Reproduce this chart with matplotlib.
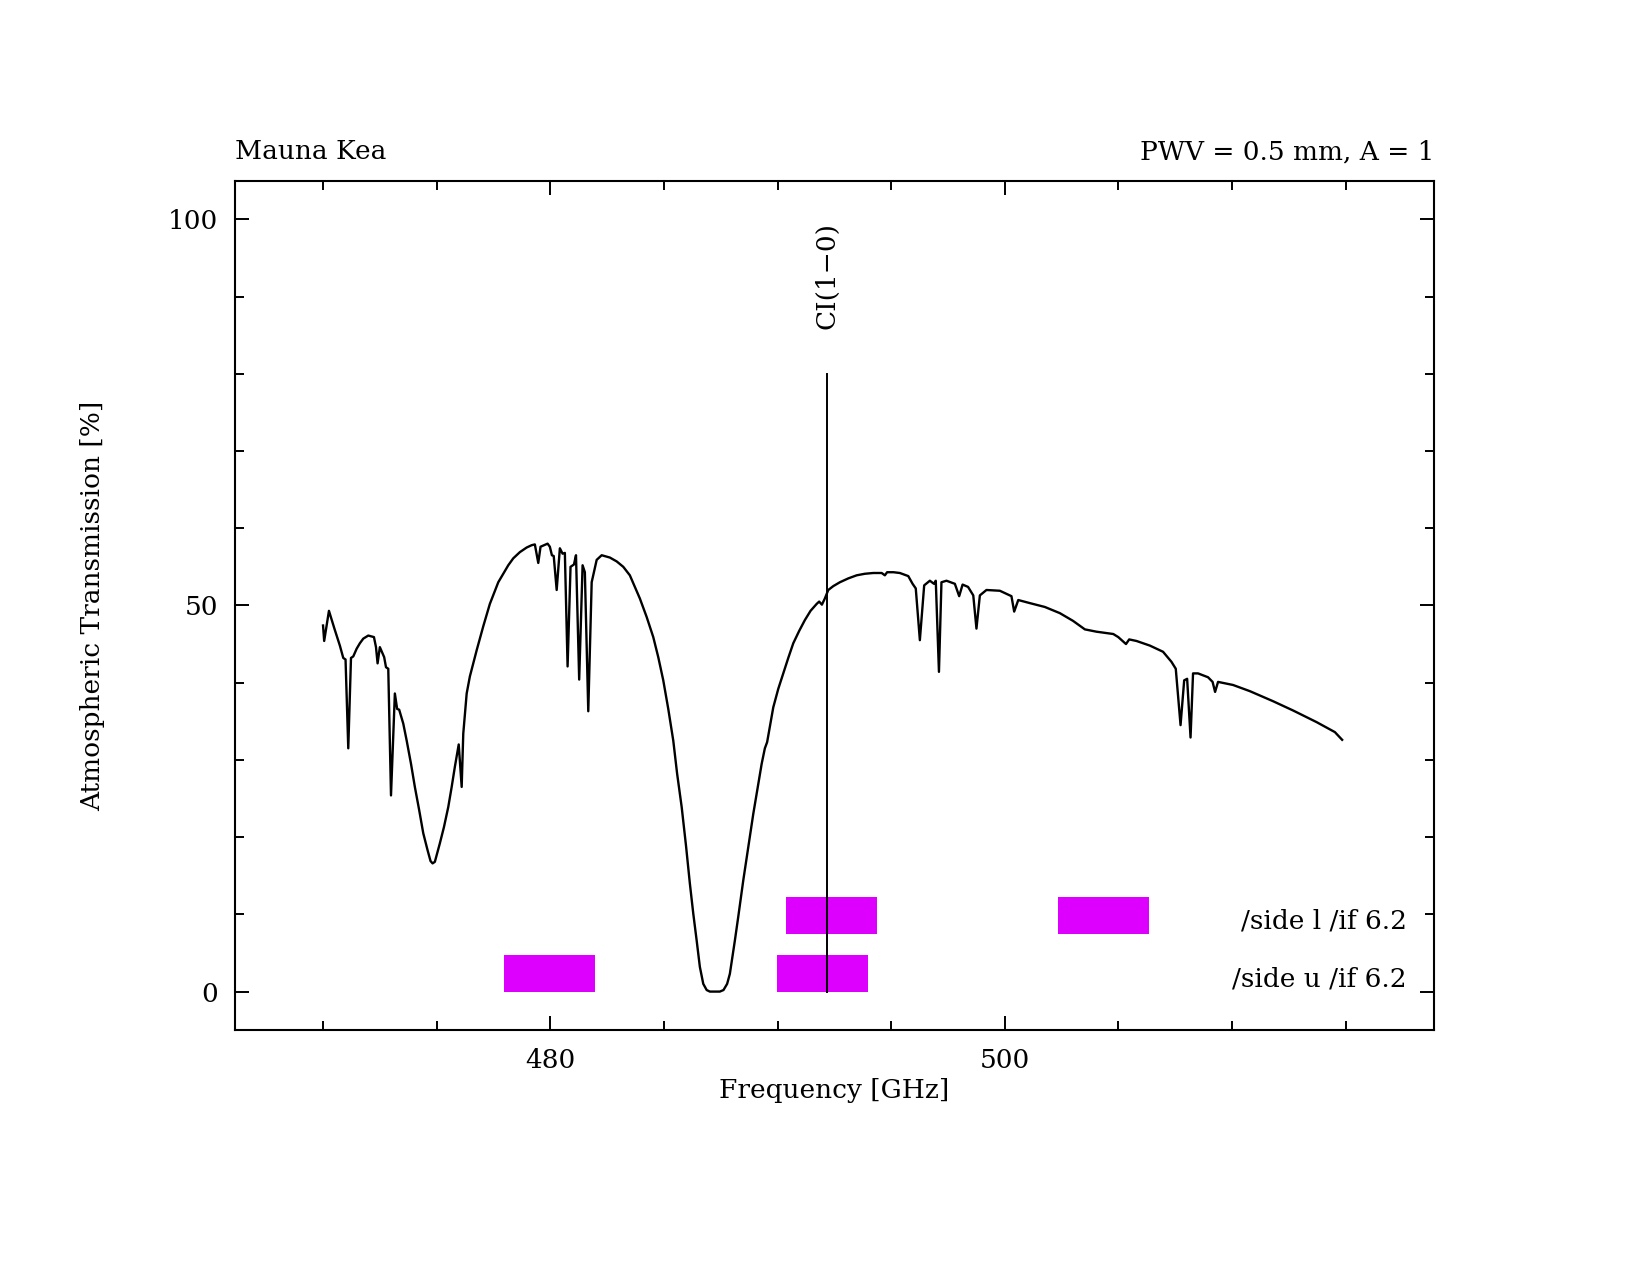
import matplotlib

matplotlib.use("Agg")
import matplotlib.pyplot as plt
from matplotlib.ticker import MultipleLocator
from matplotlib.patches import Rectangle

# atmospheric transmission
freq = [470.00, 470.05, 470.26, 470.50, 470.74, 470.89, 470.99, 471.11, 471.23, 471.33,
        471.48, 471.62, 471.77, 471.99, 472.24, 472.33, 472.40, 472.50, 472.69, 472.77,
        472.87, 472.99, 473.16, 473.26, 473.35, 473.53, 473.68, 473.87, 474.04, 474.23,
        474.41, 474.60, 474.73, 474.82, 474.92, 475.14, 475.32, 475.51, 475.66, 475.80,
        475.97, 476.10, 476.17, 476.32, 476.46, 476.61, 476.76, 477.05, 477.34, 477.71,
        478.15, 478.37, 478.66, 478.96, 479.18, 479.32, 479.47, 479.57, 479.88, 479.98,
        480.07, 480.15, 480.28, 480.42, 480.54, 480.64, 480.76, 480.89, 481.04, 481.13,
        481.27, 481.42, 481.52, 481.67, 481.82, 482.04, 482.26, 482.62, 482.92, 483.21,
        483.50, 483.72, 483.94, 484.24, 484.53, 484.75, 484.97, 485.19, 485.41, 485.58,
        485.78, 485.97, 486.14, 486.29, 486.44, 486.58, 486.73, 486.88, 487.02, 487.46,
        487.62, 487.78, 487.90, 488.12, 488.27, 488.49, 488.71, 488.93, 489.15, 489.30,
        489.44, 489.54, 489.81, 490.03, 490.25, 490.47, 490.69, 490.95, 491.20, 491.45,
        491.72, 491.83, 491.95, 492.08, 492.23, 492.45, 492.74, 493.11, 493.48, 493.84,
        494.21, 494.58, 494.72, 494.82, 495.10, 495.38, 495.75, 495.94, 496.08, 496.26,
        496.45, 496.70, 496.88, 496.96, 497.10, 497.21, 497.43, 497.80, 497.99, 498.14,
        498.38, 498.61, 498.75, 498.90, 499.19, 499.78, 500.29, 500.41, 500.59, 501.10,
        501.76, 502.42, 503.00, 503.52, 504.03, 504.77, 504.99, 505.33, 505.47, 505.79,
        506.38, 506.96, 507.33, 507.52, 507.73, 507.89, 508.02, 508.17, 508.28, 508.50,
        508.94, 509.14, 509.25, 509.38, 510.04, 510.78, 511.80, 512.68, 513.71, 514.52,
        514.84]
trans = [47.4, 45.4, 49.3, 47.0, 44.8, 43.2, 43.0, 31.5, 43.2, 43.4,
         44.4, 45.1, 45.7, 46.1, 45.9, 44.6, 42.5, 44.6, 43.3, 42.0,
         41.8, 25.4, 38.6, 36.6, 36.5, 34.7, 32.5, 29.5, 26.5, 23.5,
         20.5, 18.3, 16.9, 16.6, 16.8, 19.2, 21.3, 23.9, 26.5, 29.1,
         32.0, 26.5, 33.4, 38.6, 40.8, 42.5, 44.2, 47.3, 50.2, 53.0,
         55.2, 56.1, 56.9, 57.5, 57.8, 57.9, 55.5, 57.6, 58.0, 57.6,
         56.5, 56.4, 52.0, 57.4, 56.7, 56.8, 42.1, 55.0, 55.3, 56.5,
         40.4, 55.2, 54.3, 36.3, 53.0, 55.9, 56.5, 56.2, 55.7, 55.0,
         53.9, 52.4, 50.9, 48.5, 45.9, 43.3, 40.3, 36.6, 32.5, 28.2,
         23.9, 18.9, 14.0, 10.1, 6.6, 3.2, 1.0, 0.2, 0.0, 0.0,
         0.2, 1.0, 2.3, 6.6, 9.7, 14.4, 18.7, 23.0, 26.9, 29.5,
         31.5, 32.3, 36.8, 39.2, 41.2, 43.2, 45.1, 46.7, 48.1, 49.3,
         50.2, 50.5, 50.1, 50.9, 52.0, 52.5, 53.0, 53.5, 53.9, 54.1,
         54.2, 54.2, 53.9, 54.3, 54.3, 54.2, 53.8, 52.8, 52.2, 45.5,
         52.6, 53.2, 52.8, 53.2, 41.4, 53.0, 53.2, 52.8, 51.2, 52.7,
         52.4, 51.3, 47.0, 51.3, 52.0, 51.9, 51.2, 49.2, 50.7, 50.3,
         49.8, 49.0, 48.0, 46.9, 46.6, 46.3, 45.9, 45.0, 45.6, 45.4,
         44.8, 44.0, 42.7, 41.8, 34.5, 40.3, 40.5, 32.9, 41.2, 41.2,
         40.7, 40.1, 38.8, 40.1, 39.7, 38.9, 37.6, 36.4, 34.9, 33.6,
         32.6]

line_freq = 492.16
line_name = "CI(1\u22120)"

# receiver bands (GHz) for the two tunings
side_labels = ["/side l /if 6.2", "/side u /if 6.2"]
side_bands = [[(490.36, 494.36), (502.36, 506.36)],
              [(477.96, 481.96), (489.96, 493.96)]]
side_rows = [7.5, 0.0]
band_height = 4.8

plt.rcParams['font.family'] = ['DejaVu Serif']
plt.rcParams['font.size'] = 19

fig = plt.figure(figsize=(16.5, 12.75), dpi=100)
ax = fig.add_axes([0.1422, 0.1920, 0.7270, 0.6660])

for bands, y0 in zip(side_bands, side_rows):
    for lo, hi in bands:
        ax.add_patch(Rectangle((lo, y0), hi - lo, band_height,
                               facecolor='#dd00ff', edgecolor='none', zorder=1))

ax.plot(freq, trans, color='black', linewidth=1.7, zorder=3)
ax.plot([line_freq, line_freq], [0, 80], color='black', linewidth=1.4, zorder=3)
ax.text(line_freq, 85.8, line_name, rotation=90, ha='center', va='bottom')

# x in axes fraction, y in data units
for label, y0 in zip(side_labels, side_rows):
    ax.text(0.977, y0 + band_height / 2 - 0.8, label,
            transform=ax.get_yaxis_transform(), ha='right', va='center')

ax.set_xlim(466.11, 518.89)
ax.set_ylim(-5.0, 104.95)

ax.xaxis.set_major_locator(MultipleLocator(20))
ax.xaxis.set_minor_locator(MultipleLocator(5))
ax.yaxis.set_major_locator(MultipleLocator(50))
ax.yaxis.set_minor_locator(MultipleLocator(10))
ax.tick_params(which='both', direction='in', top=True, right=True, width=1.4)
ax.tick_params(which='major', length=10)
ax.tick_params(which='minor', length=6.5)
ax.tick_params(axis='x', which='major', pad=13)
ax.tick_params(axis='y', which='major', pad=12)
for s in ax.spines.values():
    s.set_linewidth(1.5)

ax.text(0.5, -0.0716, "Frequency [GHz]", transform=ax.transAxes,
        ha='center', va='center')
ax.text(-0.1185, 0.5, "Atmospheric Transmission [%]", transform=ax.transAxes,
        ha='center', va='center', rotation=90)
ax.text(0.0, 1.0256, "Mauna Kea", transform=ax.transAxes, ha='left', va='baseline')
ax.text(1.0, 1.0256, "PWV = 0.5 mm, A = 1", transform=ax.transAxes,
        ha='right', va='baseline')

fig.savefig("out.png", dpi=100)
